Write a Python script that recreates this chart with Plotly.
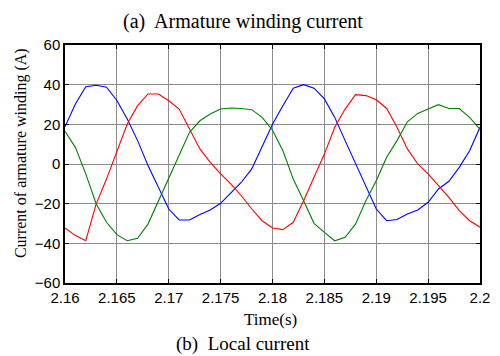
import plotly.graph_objects as go

# time samples (s)
time = [round(2.16 + 0.001 * k, 3) for k in range(41)]

# phase currents (A)
blue = [18.8, 30.3, 39.0, 39.7, 38.7, 32.0, 22.7, 11.8, -0.8, -11.8,
        -22.7, -28.2, -28.2, -25.5, -23.2, -19.8, -14.3, -9.2, -2.5, 8.4,
        20.0, 29.4, 38.2, 40.0, 38.2, 32.8, 23.5, 11.8, 0.0, -11.8,
        -22.7, -28.6, -28.0, -25.2, -23.2, -19.3, -12.6, -8.7, -1.7, 6.7,
        18.5]
red = [-32.3, -36.1, -38.7, -20.2, -7.6, 6.7, 20.2, 29.4, 35.3, 35.3,
       31.9, 27.7, 17.6, 7.6, 0.8, -5.0, -10.1, -16.0, -22.7, -28.6,
       -32.3, -33.1, -29.4, -18.5, -6.7, 5.0, 18.5, 27.7, 35.0, 34.5,
       32.4, 28.0, 18.5, 7.6, 0.0, -5.0, -10.9, -16.8, -23.5, -28.6,
       -31.9]
green = [16.5, 8.4, -5.0, -20.0, -29.4, -35.6, -38.7, -37.5, -30.3, -18.5,
         -6.7, 5.0, 16.0, 21.8, 25.2, 27.7, 28.2, 28.0, 27.4, 23.5,
         17.0, 6.7, -7.6, -18.5, -29.9, -34.5, -38.7, -37.0, -30.3, -18.5,
         -8.4, 3.4, 11.8, 21.3, 25.5, 27.7, 29.9, 28.0, 28.0, 23.5,
         17.5]

x_ticks = [2.16, 2.165, 2.17, 2.175, 2.18, 2.185, 2.19, 2.195, 2.2]
x_tick_text = ["2.16", "2.165", "2.17", "2.175", "2.18", "2.185", "2.19", "2.195", "2.2"]
y_ticks = [-60, -40, -20, 0, 20, 40, 60]

title_top = "(a)  Armature winding current"
title_bottom = "(b)  Local current"
x_label = "Time(s)"
y_label = "Current of armature winding (A)"

fig = go.Figure()
for vals, col in [(blue, "#0000ff"), (red, "#ff0000"), (green, "#008000")]:
    fig.add_trace(go.Scatter(x=time, y=vals, mode="lines",
                             line=dict(color=col, width=1.1),
                             showlegend=False, hoverinfo="skip"))

serif = "Liberation Serif, Times New Roman, serif"
sans = "Liberation Sans, Arial, sans-serif"

axis_common = dict(showline=True, linecolor="black", linewidth=1.5,
                   mirror="ticks", ticks="inside", ticklen=4, tickcolor="black",
                   showgrid=True, gridcolor="#8c8c8c", gridwidth=1,
                   zeroline=False, tickfont=dict(family=sans, size=15, color="black"))

fig.update_xaxes(range=[2.16, 2.2], tickvals=x_ticks, ticktext=x_tick_text,
                 **axis_common)
fig.update_yaxes(range=[-60, 60], tickvals=y_ticks, **axis_common)

annots = [
    dict(text=title_top, x=0.43, y=1.097, size=20),
    dict(text=title_bottom, x=0.43, y=-0.258, size=19),
    dict(text=x_label, x=0.494, y=-0.155, size=17),
]
ann_list = []
for a in annots:
    ann_list.append(dict(text=a["text"], x=a["x"], y=a["y"], xref="paper", yref="paper",
                         xanchor="center", yanchor="middle", showarrow=False,
                         font=dict(family=serif, size=a["size"], color="black")))
ann_list.append(dict(text=y_label, x=-0.106, y=0.546, xref="paper", yref="paper",
                     xanchor="center", yanchor="middle", showarrow=False, textangle=-90,
                     font=dict(family=serif, size=16, color="black")))

fig.update_layout(width=500, height=356, margin=dict(l=65, r=10, t=45, b=73),
                  paper_bgcolor="white", plot_bgcolor="white",
                  annotations=ann_list)

fig.write_html("out.html")
